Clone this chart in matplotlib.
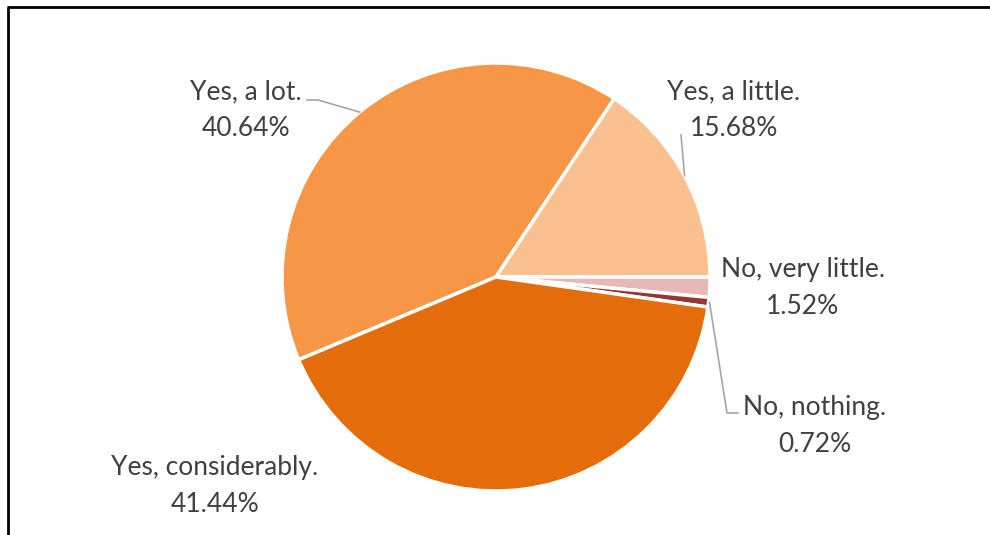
import numpy as np
import matplotlib
matplotlib.use("Agg")
import matplotlib.pyplot as plt

categories = ["Yes, a lot.", "Yes, a little.", "No, very little.", "No, nothing.", "Yes, considerably."]
values = [40.64, 15.68, 1.52, 0.72, 41.44]
colors = ["#F79646", "#FAC090", "#E6B9B8", "#953735", "#E46C0A"]

W, H = 990, 535
fig = plt.figure(figsize=(W / 100, H / 100), dpi=100)
ax = fig.add_axes([0, 0, 1, 1])
ax.set_xlim(0, W)
ax.set_ylim(0, H)
ax.set_aspect("equal")
ax.axis("off")

cx, cy, R = 496, H - 277, 214
start = 202.75
wedges, _ = ax.pie(values, colors=colors, startangle=start, counterclock=False,
                   center=(cx, cy), radius=R, frame=False,
                   wedgeprops=dict(edgecolor="white", linewidth=2.5))
ax.set_xlim(0, W)
ax.set_ylim(0, H)

# frame lines (left and top)
ax.plot([8, 8], [0, H - 7], color="black", lw=2, solid_capstyle="butt")
ax.plot([7, W], [H - 7, H - 7], color="black", lw=2, solid_capstyle="butt")

txt_color = "#404040"
font = dict(family="Lato", fontsize=19, color=txt_color, ha="center", va="center")

# label positions in pixel coords (x, y of first line)
label_pos = [(246, 92), (734, 92), (803, 270), (815, 408), (215, 468)]
line_gap = 37
for cat, v, (lx, ly) in zip(categories, values, label_pos):
    ax.text(lx, H - ly, cat, **font)
    ax.text(lx, H - ly - line_gap, f"{v:.2f}%", **font)

def edge_point(i, r=R):
    w = wedges[i]
    a = np.deg2rad((w.theta1 + w.theta2) / 2)
    return cx + r * np.cos(a), cy + r * np.sin(a)

lc = "#A6A6A6"
# Yes, a lot leader
px, py = edge_point(0)
ax.plot([307, 318, px], [H - 100, H - 100, py], color=lc, lw=1.2)
# Yes, a little leader
px, py = edge_point(1)
ax.plot([681, px], [H - 135, py], color=lc, lw=1.2)
# No, nothing leader
px, py = edge_point(3, R + 1)
ax.plot([px, 727, 738], [py, H - 413, H - 413], color=lc, lw=1.2)

fig.savefig("out.png", dpi=100, facecolor="white")
